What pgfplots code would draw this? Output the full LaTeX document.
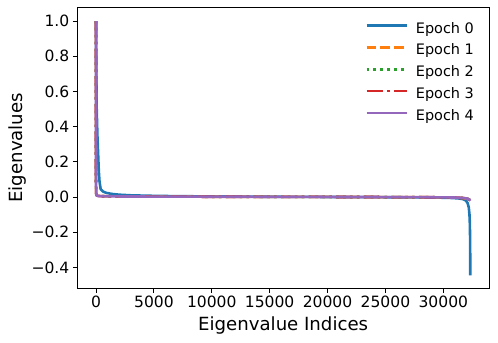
\documentclass[border=0pt]{standalone}
\usepackage{fontspec}
\setmainfont{DejaVu Sans}
\usepackage{pgfplots}
\pgfplotsset{compat=1.18}
\definecolor{tabblue}{HTML}{1F77B4}
\definecolor{taborange}{HTML}{FF7F0E}
\definecolor{tabgreen}{HTML}{2CA02C}
\definecolor{tabred}{HTML}{D62728}
\definecolor{tabpurple}{HTML}{9467BD}
\begin{document}
\begin{tikzpicture}
\begin{axis}[
  name=ax,
  at={(0,0)}, anchor=south west,
  scale only axis,
  width=411.7bp, height=281bp,
  xmin=-1616, xmax=33946,
  ymin=-0.519, ymax=1.078,
  scaled x ticks=false,
  axis line style={line width=0.8bp},
  tick align=outside,
  xtick pos=bottom, ytick pos=left,
  major tick length=4.5bp,
  tick style={line width=0.8bp, black},
  xtick={0,5000,10000,15000,20000,25000,30000},
  xticklabels={0,5000,10000,15000,20000,25000,30000},
  ytick={-0.4,-0.2,0,0.2,0.4,0.6,0.8,1.0},
  yticklabels={−0.4,−0.2,0.0,0.2,0.4,0.6,0.8,1.0},
  tick label style={font=\fontsize{15.6}{18}\selectfont},
  xlabel={Eigenvalue Indices},
  ylabel={Eigenvalues},
  label style={font=\fontsize{18.2}{22}\selectfont},
  xlabel style={at={(axis description cs:0.5,-0.1306)}, anchor=center},
  ylabel style={at={(axis description cs:-0.1457,0.5)}, anchor=center},
  legend style={at={(axis description cs:0.699,0.946)}, anchor=north west,
    draw=none, fill=none, inner sep=0pt, row sep=8.3bp, column sep=8bp,
    font=\fontsize{14.5}{17}\selectfont,
    nodes={inner sep=0pt, text height=10.5bp, text depth=3bp}},
  legend cell align=left,
  legend image code/.code={\draw[line width=2.6bp,#1] (0bp,3.75bp) -- (40bp,3.75bp);},
  every axis plot/.append style={line width=2.6bp},
]
\addplot[tabblue, solid] coordinates {
(0,1.0) (20,0.75) (60,0.5) (120,0.35) (180,0.25) (240,0.15) (300,0.09)
(400,0.045) (600,0.031) (900,0.023) (1400,0.017) (2000,0.013) (3000,0.0095)
(4500,0.007) (6500,0.005) (9000,0.0035) (12000,0.0022) (16000,0.001)
(20000,0.0) (24000,-0.001) (27000,-0.002) (29000,-0.003) (30500,-0.005)
(31300,-0.008) (31700,-0.012) (31950,-0.02) (32100,-0.035) (32200,-0.06)
(32260,-0.1) (32290,-0.15) (32310,-0.22) (32322,-0.32) (32330,-0.446)
};
\addlegendentry{Epoch 0}
\addplot[taborange, dash pattern=on 9.6bp off 4.2bp] coordinates {
(0,1.0) (1,0.3) (3,0.07) (10,0.025) (40,0.012) (150,0.007) (600,0.0045)
(2000,0.0032) (6000,0.002) (15000,0.0008) (22000,0.0) (28000,-0.001)
(31000,-0.003) (31800,-0.007) (32100,-0.011) (32250,-0.016) (32330,-0.024)
};
\addlegendentry{Epoch 1}
\addplot[tabgreen, dash pattern=on 2.6bp off 4.3bp] coordinates {
(0,1.0) (1,0.28) (3,0.065) (10,0.022) (40,0.011) (150,0.0065) (600,0.0042)
(2000,0.003) (6000,0.002) (15000,0.0008) (22000,0.0) (28000,-0.001)
(31000,-0.003) (31800,-0.0065) (32100,-0.0105) (32250,-0.0155) (32330,-0.023)
};
\addlegendentry{Epoch 2}
\addplot[tabred, dash pattern=on 16.6bp off 4.2bp on 2.6bp off 4.2bp] coordinates {
(0,1.0) (1,0.26) (3,0.062) (10,0.021) (40,0.0105) (150,0.0062) (600,0.0041)
(2000,0.003) (6000,0.002) (15000,0.0008) (22000,0.0) (28000,-0.001)
(31000,-0.003) (31800,-0.0062) (32100,-0.0102) (32250,-0.0152) (32330,-0.0225)
};
\addlegendentry{Epoch 3}
\addplot[tabpurple, solid] coordinates {
(0,1.0) (1,0.25) (3,0.06) (10,0.02) (40,0.01) (150,0.006) (600,0.004)
(2000,0.003) (6000,0.002) (15000,0.0008) (22000,0.0) (28000,-0.001)
(31000,-0.003) (31800,-0.006) (32100,-0.01) (32250,-0.015) (32330,-0.022)
};
\addlegendentry{Epoch 4}
\end{axis}
\pgfresetboundingbox
\path[use as bounding box] ([shift={(-77.3bp,-54.7bp)}]ax.south west) rectangle ++(498bp,343bp);
\end{tikzpicture}
\end{document}
